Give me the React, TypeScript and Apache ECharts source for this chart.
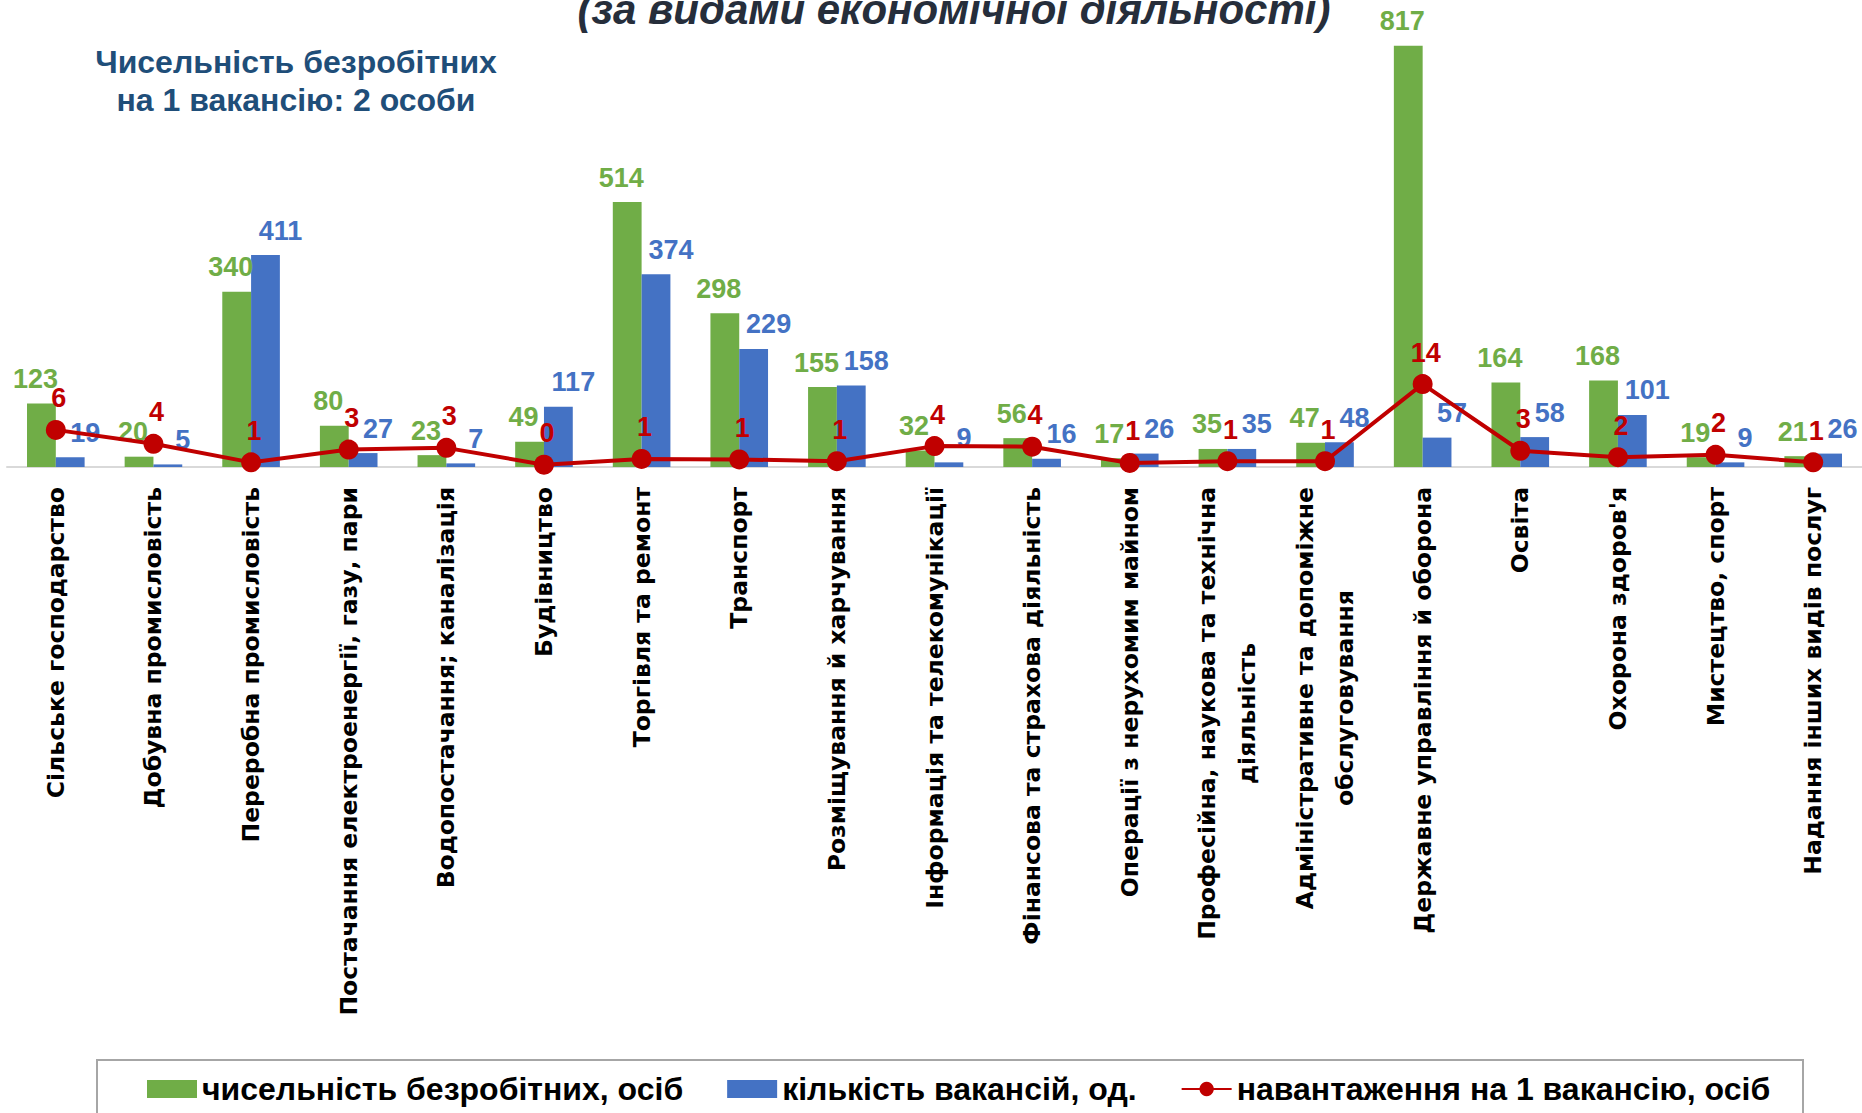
import React, { useEffect, useRef } from "react";
import * as echarts from "echarts";

const categories = [
  "Сільське господарство",
  "Добувна промисловість",
  "Переробна промисловість",
  "Постачання електроенергії, газу, пари",
  "Водопостачання; каналізація",
  "Будівництво",
  "Торгівля та ремонт",
  "Транспорт",
  "Розміщування й харчування",
  "Інформація та телекомунікації",
  "Фінансова та страхова діяльність",
  "Операції з нерухомим майном",
  "Професійна, наукова та технічна\nдіяльність",
  "Адміністративне та допоміжне\nобслуговування",
  "Державне управління й оборона",
  "Освіта",
  "Охорона здоров'я",
  "Мистецтво, спорт",
  "Надання інших видів послуг",
];

const unemployed = [123, 20, 340, 80, 23, 49, 514, 298, 155, 32, 56, 17, 35, 47, 817, 164, 168, 19, 21];
const vacancies = [19, 5, 411, 27, 7, 117, 374, 229, 158, 9, 16, 26, 35, 48, 57, 58, 101, 9, 26];
const loadPerVacancy = [6.4, 4, 0.8, 3, 3.3, 0.4, 1.4, 1.3, 1, 3.6, 3.5, 0.7, 1, 1, 14.3, 2.8, 1.7, 2.1, 0.8];

const seriesNames = [
  "чисельність безробітних, осіб",
  "кількість вакансій, од.",
  "навантаження на 1 вакансію, осіб",
];

const titleText = "(за видами економічної діяльності)";
const subtitleLines = ["Чисельність безробітних", "на 1 вакансію: 2 особи"];

const GREEN = "#70AD47";
const BLUE = "#4472C4";
const RED = "#C00000";

export default function App() {
  const ref = useRef<HTMLDivElement>(null);
  useEffect(() => {
    document.body.style.margin = "0";
    if (!ref.current) return;
    const chart = echarts.init(ref.current, undefined, { renderer: "svg" });
    const labelFont = {
      fontFamily: "Liberation Sans, Arial, sans-serif",
      fontWeight: "bold" as const,
      fontSize: 27,
    };
    chart.setOption({
      animation: false,
      backgroundColor: "#ffffff",
      grid: { left: 7, top: 3, width: 1858, height: 464 },
      xAxis: {
        type: "category",
        data: categories,
        axisLine: { show: true, lineStyle: { color: "#D9D9D9", width: 2 } },
        axisTick: { show: false },
        axisLabel: {
          interval: 0,
          rotate: 90,
          margin: 20,
          formatter: (v: string) =>
            v
              .split("\n")
              .map((s) => "{c|" + s + "}")
              .join("\n"),
          rich: {
            c: {
              align: "center",
              fontFamily: "DejaVu Sans, Verdana, sans-serif",
              fontWeight: "bold",
              fontSize: 23.5,
              lineHeight: 40,
              color: "#000000",
            },
          },
        },
      },
      yAxis: [
        { type: "value", min: 0, max: 900, show: false, splitLine: { show: false } },
        { type: "value", min: 0, max: 80, show: false, splitLine: { show: false } },
      ],
      legend: {
        left: 142,
        top: 1068,
        itemWidth: 50,
        itemHeight: 18,
        itemGap: 44,
        textStyle: {
          fontFamily: "Liberation Sans, Arial, sans-serif",
          fontWeight: "bold",
          fontSize: 32,
          color: "#000000",
        },
        data: [
          { name: seriesNames[0], icon: "rect" },
          { name: seriesNames[1], icon: "rect" },
          { name: seriesNames[2] },
        ],
      },
      graphic: [
        {
          type: "rect",
          shape: { x: 97, y: 1060, width: 1706, height: 80 },
          style: { fill: "none", stroke: "#A6A6A6", lineWidth: 2 },
          silent: true,
        },
        {
          type: "text",
          x: 954,
          y: 30,
          style: {
            text: titleText,
            align: "center",
            verticalAlign: "bottom",
            fontFamily: "Liberation Sans, Arial, sans-serif",
            fontWeight: "bold",
            fontStyle: "italic",
            fontSize: 42,
            fill: "#262E3B",
          },
        },
        {
          type: "text",
          x: 296,
          y: 62,
          style: {
            text: subtitleLines[0],
            align: "center",
            verticalAlign: "middle",
            fontFamily: "Liberation Sans, Arial, sans-serif",
            fontWeight: "bold",
            fontSize: 32,
            fill: "#1F4E79",
          },
        },
        {
          type: "text",
          x: 296,
          y: 100,
          style: {
            text: subtitleLines[1],
            align: "center",
            verticalAlign: "middle",
            fontFamily: "Liberation Sans, Arial, sans-serif",
            fontWeight: "bold",
            fontSize: 32,
            fill: "#1F4E79",
          },
        },
      ],
      series: [
        {
          name: seriesNames[0],
          type: "bar",
          data: unemployed,
          barGap: "0%",
          barCategoryGap: "41%",
          itemStyle: { color: GREEN },
          label: {
            show: true,
            position: "top",
            distance: 11,
            offset: [-6, 0],
            color: GREEN,
            ...labelFont,
          },
        },
        {
          name: seriesNames[1],
          type: "bar",
          data: vacancies,
          itemStyle: { color: BLUE },
          label: {
            show: true,
            position: "top",
            distance: 11,
            offset: [15, 0],
            color: BLUE,
            ...labelFont,
          },
        },
        {
          name: seriesNames[2],
          type: "line",
          yAxisIndex: 1,
          data: loadPerVacancy,
          z: 5,
          symbol: "circle",
          symbolSize: 20,
          lineStyle: { color: RED, width: 4 },
          itemStyle: { color: RED },
          label: {
            show: true,
            position: "top",
            distance: 8,
            offset: [3, 0],
            color: RED,
            formatter: (p: any) => String(Math.round(p.value)),
            ...labelFont,
          },
        },
      ],
    });
    return () => chart.dispose();
  }, []);
  return <div ref={ref} style={{ width: 1862, height: 1113 }} />;
}
